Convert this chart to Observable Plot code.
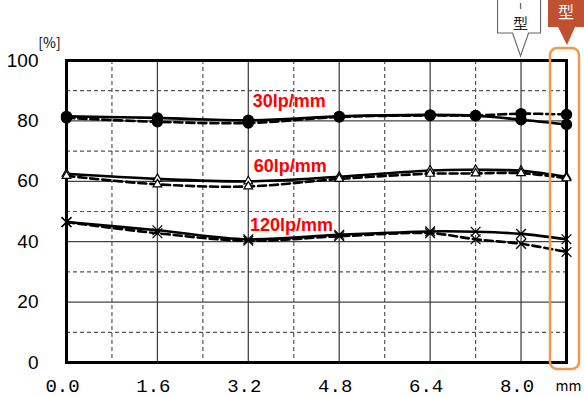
<!DOCTYPE html>
<html>
<head>
<meta charset="utf-8">
<script src="https://cdn.jsdelivr.net/npm/d3@7"></script>
<script src="https://cdn.jsdelivr.net/npm/@observablehq/plot@0.6"></script>
<style>
  html, body { margin: 0; padding: 0; background: #fff; }
  svg { display: block; }
</style>
</head>
<body>
<div id="chart"></div>
<script>
// ---- data ----
const positions = [0, 1.6, 3.2, 4.8, 6.4, 7.2, 8.0, 8.8];
const mtf30Solid  = [81.5, 81.0, 80.2, 81.5, 82.0, 81.7, 80.4, 78.8];
const mtf30Dash   = [81.0, 79.7, 79.3, 81.3, 81.8, 81.8, 82.4, 82.1];
const mtf60Solid  = [62.5, 60.8, 60.0, 61.5, 63.6, 63.8, 63.5, 61.5];
const mtf60Dash   = [61.8, 59.0, 58.3, 60.8, 62.5, 62.6, 62.7, 61.0];
const mtf120Solid = [46.5, 43.8, 40.8, 42.3, 43.4, 43.3, 42.6, 40.8];
const mtf120Dash  = [46.5, 42.8, 40.3, 41.8, 42.8, 40.8, 39.3, 36.6];
const seriesLabels = ["30lp/mm", "60lp/mm", "120lp/mm"];
const labelX = [3.92, 3.94, 3.96];
const labelY = [86.4, 65.0, 45.6];
const xTicks = [0, 1.6, 3.2, 4.8, 6.4, 8.0];
const xTickLabels = ["0.0", "1.6", "3.2", "4.8", "6.4", "8.0"];
const xMinor = [0.8, 2.4, 4.0, 5.6, 7.2];
const yTicks = [0, 20, 40, 60, 80, 100];
const yMinor = [10, 30, 50, 70, 90];
const xUnit = "mm";
const yUnit = "[%]";
const callout1 = {x: 8.0, top: "I", text: "型"};
const callout2 = {x: 8.8, text: "型"};

const toRows = (vals) => positions.map((p, i) => ({x: p, y: vals[i]}));

const lineSolid = {stroke: "black", strokeWidth: 2.6, curve: "catmull-rom"};
const lineDash = {stroke: "black", strokeWidth: 2.6, strokeDasharray: "8,4", curve: "catmull-rom"};

function annotations(index, {x, y}) {
  const g = d3.create("svg:g");
  // highlight box around last column
  const hx = x(callout2.x);
  g.append("rect")
    .attr("x", hx - 16).attr("y", y(100) - 12)
    .attr("width", 29).attr("height", y(0) - y(100) + 19)
    .attr("rx", 7).attr("ry", 7)
    .attr("fill", "none").attr("stroke", "#f5964a").attr("stroke-width", 2.5);
  // callout 1 (white)
  const c1 = x(callout1.x);
  g.append("path")
    .attr("d", `M${c1-23},-3 L${c1-23},33 L${c1-8},33 L${c1},56 L${c1+8},33 L${c1+20},33 L${c1+20},-3`)
    .attr("fill", "white").attr("stroke", "#666").attr("stroke-width", 1.1);
  g.append("text").attr("x", c1).attr("y", 9).attr("text-anchor", "middle")
    .attr("font-family", "'Liberation Sans', sans-serif").attr("font-size", 9).attr("fill", "#222")
    .text(callout1.top);
  g.append("text").attr("x", c1).attr("y", 29).attr("text-anchor", "middle")
    .attr("font-family", "'Noto Sans CJK JP', sans-serif").attr("font-size", 15).attr("fill", "#222")
    .text(callout1.text);
  // callout 2 (filled)
  const c2 = x(callout2.x);
  g.append("path")
    .attr("d", `M${c2-18},-3 L${c2-18},27 L${c2-8},27 L${c2+1},45 L${c2+9},27 L${c2+22},27 L${c2+22},-3 Z`)
    .attr("fill", "#bf5130").attr("stroke", "none");
  g.append("text").attr("x", c2).attr("y", 18).attr("text-anchor", "middle")
    .attr("font-family", "'Noto Sans CJK JP', sans-serif").attr("font-size", 16).attr("fill", "white")
    .text(callout2.text);
  return g.node();
}

const chart = Plot.plot({
  width: 584,
  height: 397,
  marginLeft: 66,
  marginRight: 18,
  marginTop: 60,
  marginBottom: 35,
  x: {domain: [0, 8.8], axis: null},
  y: {domain: [0, 100], axis: null},
  style: {background: "white"},
  marks: [
    Plot.ruleX(xMinor, {stroke: "#555", strokeWidth: 1.2, strokeDasharray: "4,3"}),
    Plot.ruleY(yMinor, {stroke: "#555", strokeWidth: 1.2, strokeDasharray: "4,3"}),
    Plot.ruleX(xTicks.slice(1), {stroke: "#444", strokeWidth: 1.3}),
    Plot.ruleY(yTicks.slice(1, -1), {stroke: "#444", strokeWidth: 1.3}),
    Plot.frame({stroke: "black", strokeWidth: 3}),
    // lines
    Plot.line(toRows(mtf30Solid), {x: "x", y: "y", ...lineSolid}),
    Plot.line(toRows(mtf30Dash), {x: "x", y: "y", ...lineDash}),
    Plot.line(toRows(mtf60Solid), {x: "x", y: "y", ...lineSolid}),
    Plot.line(toRows(mtf60Dash), {x: "x", y: "y", ...lineDash}),
    Plot.line(toRows(mtf120Solid), {x: "x", y: "y", ...lineSolid}),
    Plot.line(toRows(mtf120Dash), {x: "x", y: "y", ...lineDash}),
    // markers
    Plot.dot(toRows(mtf30Dash), {x: "x", y: "y", r: 5.7, fill: "black", stroke: "none"}),
    Plot.dot(toRows(mtf30Solid), {x: "x", y: "y", r: 5.7, fill: "black", stroke: "none"}),
    Plot.dot(toRows(mtf60Solid), {x: "x", y: "y", r: 3.2, symbol: "triangle", fill: "white", stroke: "black", strokeWidth: 1.2}),
    Plot.dot(toRows(mtf60Dash), {x: "x", y: "y", r: 3.2, symbol: "triangle", fill: "white", stroke: "black", strokeWidth: 1.2}),
    Plot.dot(toRows(mtf120Solid), {x: "x", y: "y", r: 4.5, symbol: "times", stroke: "black", strokeWidth: 1.3}),
    Plot.dot(toRows(mtf120Dash), {x: "x", y: "y", r: 4.5, symbol: "times", stroke: "black", strokeWidth: 1.3}),
    // series labels
    Plot.text(seriesLabels, {x: (d, i) => labelX[i], y: (d, i) => labelY[i], text: d => d,
      fill: "#ff0000", fontWeight: "bold", fontSize: 18, fontFamily: "'Liberation Sans', Arial, sans-serif"}),
    // tick labels
    Plot.text(xTicks, {x: d => d, y: 0, dy: 23, dx: -4, text: (d, i) => xTickLabels[i], textAnchor: "middle",
      fontSize: 19, fontFamily: "'Liberation Mono', 'DejaVu Sans Mono', monospace", fill: "black"}),
    Plot.text([xUnit], {x: 8.8, y: 0, dy: 24, dx: 2, text: d => d, fontSize: 14,
      fontFamily: "'Noto Sans CJK JP', sans-serif", fill: "black"}),
    Plot.text(yTicks, {x: 0, y: d => d, dx: -28, text: d => String(d), textAnchor: "end",
      fontSize: 19, fontFamily: "'Liberation Sans Narrow', 'Liberation Sans', sans-serif", fill: "black"}),
    Plot.text([yUnit], {x: 0, y: 100, dx: -17, dy: -17, text: d => d, textAnchor: "middle", fontSize: 14,
      fontFamily: "'Noto Sans CJK JP', sans-serif", fill: "black"}),
    annotations
  ]
});
document.getElementById("chart").appendChild(chart);
</script>
</body>
</html>
